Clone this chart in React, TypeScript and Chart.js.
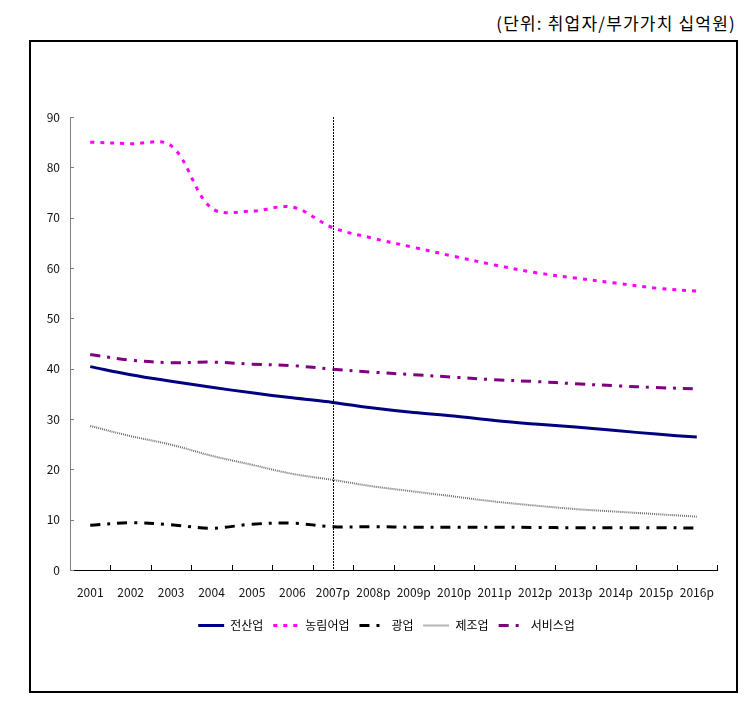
import { useEffect, useRef } from 'react';
import { Chart, registerables } from 'chart.js';

Chart.register(...registerables);

const categories = ['2001', '2002', '2003', '2004', '2005', '2006', '2007p', '2008p', '2009p', '2010p', '2011p', '2012p', '2013p', '2014p', '2015p', '2016p'];
const allIndustry = [40.4, 38.8, 37.5, 36.3, 35.2, 34.2, 33.3, 32.2, 31.3, 30.6, 29.7, 29.0, 28.4, 27.7, 27.0, 26.4];
const agriculture = [85.0, 84.7, 84.3, 71.9, 71.3, 72.1, 68.0, 65.9, 64.1, 62.3, 60.6, 59.1, 58.0, 57.0, 56.0, 55.4];
const mining = [8.9, 9.4, 9.0, 8.3, 9.1, 9.3, 8.6, 8.6, 8.5, 8.5, 8.5, 8.45, 8.4, 8.4, 8.4, 8.35];
const manufacturing = [28.6, 26.6, 24.9, 22.7, 20.9, 19.1, 17.9, 16.6, 15.6, 14.6, 13.6, 12.8, 12.1, 11.6, 11.1, 10.6];
const services = [42.8, 41.7, 41.2, 41.3, 40.9, 40.6, 39.9, 39.3, 38.8, 38.3, 37.8, 37.45, 37.0, 36.6, 36.25, 36.0];
const seriesNames = ['전산업', '농림어업', '광업', '제조업', '서비스업'];
const yMin = 0;
const yMax = 90;
const yStep = 10;
const forecastStart = '2007p';
const unitLabel = '(단위: 취업자/부가가치 십억원)';

const FONT = '"Noto Sans CJK KR", "Noto Sans", sans-serif';

const extrasPlugin = {
  id: 'extras',
  afterLayout(chart: any) {
    const lg = chart.legend;
    if (lg) {
      lg.left += 13;
      lg.right += 13;
    }
  },
  afterDatasetsDraw(chart: any) {
    const { ctx, chartArea } = chart;
    const x = chart.scales.x;
    const y = chart.scales.y;
    ctx.save();
    const fx = x.getPixelForValue(categories.indexOf(forecastStart));
    ctx.strokeStyle = '#000';
    ctx.lineWidth = 1;
    ctx.setLineDash([2, 1]);
    ctx.beginPath();
    ctx.moveTo(Math.round(fx) + 0.5, chartArea.top);
    ctx.lineTo(Math.round(fx) + 0.5, chartArea.bottom);
    ctx.stroke();
    ctx.setLineDash([]);
    ctx.strokeStyle = '#000';
    for (let i = 1; i <= categories.length; i++) {
      const px = Math.round(x.getPixelForValue(i - 0.5)) + 0.5;
      ctx.beginPath();
      ctx.moveTo(px, chartArea.bottom);
      ctx.lineTo(px, chartArea.bottom - 5);
      ctx.stroke();
    }
    ctx.strokeStyle = '#808080';
    for (let v = yMin; v <= yMax; v += yStep) {
      const py = Math.round(y.getPixelForValue(v)) + 0.5;
      ctx.beginPath();
      ctx.moveTo(chartArea.left, py);
      ctx.lineTo(chartArea.left + 4, py);
      ctx.stroke();
    }
    ctx.restore();
  },
  afterDraw(chart: any) {
    const legend = chart.legend;
    if (!legend || !legend.legendHitBoxes) return;
    const { ctx } = chart;
    const boxW = legend.options.labels.boxWidth;
    ctx.save();
    legend.legendHitBoxes.forEach((hb: any, i: number) => {
      const ds = chart.data.datasets[i];
      const cy = Math.round(hb.top + hb.height / 2) + 0.5;
      ctx.strokeStyle = ds.borderColor;
      ctx.lineWidth = ds.borderWidth;
      ctx.setLineDash(ds.borderDash || []);
      ctx.beginPath();
      ctx.moveTo(hb.left, cy);
      ctx.lineTo(hb.left + boxW, cy);
      ctx.stroke();
    });
    ctx.restore();
  },
};

export default function App() {
  const ref = useRef<HTMLCanvasElement>(null);
  useEffect(() => {
    if (!ref.current) return;
    const chart = new Chart(ref.current, {
      type: 'line',
      data: {
        labels: categories,
        datasets: [
          { label: seriesNames[0], data: allIndustry, borderColor: '#000080', borderWidth: 3, borderDash: [] },
          { label: seriesNames[1], data: agriculture, borderColor: '#FF00FF', borderWidth: 3, borderDash: [4, 6] },
          { label: seriesNames[2], data: mining, borderColor: '#000000', borderWidth: 3, borderDash: [10, 7, 3, 7] },
          { label: seriesNames[3], data: manufacturing, borderColor: '#6e6e6e', borderWidth: 2, borderDash: [1, 1] },
          { label: seriesNames[4], data: services, borderColor: '#800080', borderWidth: 3, borderDash: [10, 7, 3, 7] },
        ].map((d) => ({ ...d, pointRadius: 0, pointHoverRadius: 0, tension: 0.35, fill: false, backgroundColor: d.borderColor })),
      },
      options: {
        animation: false,
        responsive: false,
        events: [],
        layout: { padding: { left: 30, right: 33, top: 117, bottom: 62 } },
        plugins: {
          title: { display: false },
          tooltip: { enabled: false },
          legend: {
            display: true,
            position: 'bottom',
            labels: {
              boxWidth: 26,
              boxHeight: 12,
              padding: 10,
              color: '#000',
              font: { family: FONT, size: 12 },
              generateLabels: (c: any) =>
                c.data.datasets.map((ds: any, i: number) => ({
                  text: ds.label,
                  fillStyle: 'rgba(0,0,0,0)',
                  strokeStyle: 'rgba(0,0,0,0)',
                  lineWidth: 0,
                  hidden: false,
                  datasetIndex: i,
                  fontColor: '#000',
                })),
            },
          },
        },
        scales: {
          x: {
            type: 'category',
            offset: true,
            grid: { display: true, offset: true, drawOnChartArea: false, drawTicks: false },
            border: { display: true, color: '#000', width: 1 },
            ticks: { autoSkip: false, maxRotation: 0, minRotation: 0, padding: 15, color: '#111', font: { family: FONT, size: 12 } },
            afterFit: (s: any) => { s.height = 39; },
          },
          y: {
            min: yMin,
            max: yMax,
            grid: { display: true, drawOnChartArea: false, drawTicks: false },
            border: { display: true, color: '#808080', width: 1 },
            ticks: { stepSize: yStep, padding: 10, color: '#111', font: { family: FONT, size: 12 } },
            afterFit: (s: any) => { s.width = 40; },
          },
        },
      },
      plugins: [extrasPlugin],
    } as any);
    return () => chart.destroy();
  }, []);

  return (
    <div style={{ position: 'absolute', left: 0, top: 0, width: 750, height: 703, background: '#fff' }}>
      <div
        style={{
          position: 'absolute',
          right: 14,
          top: 11,
          fontFamily: FONT,
          fontSize: 17,
          letterSpacing: '1.2px',
          lineHeight: '24px',
          color: '#000',
          whiteSpace: 'nowrap',
        }}
      >
        {unitLabel}
      </div>
      <div
        style={{
          position: 'absolute',
          left: 29,
          top: 40,
          width: 709,
          height: 653,
          boxSizing: 'border-box',
          border: '2px solid #000',
        }}
      />
      <canvas ref={ref} width={750} height={703} style={{ position: 'absolute', left: 0, top: 0 }} />
    </div>
  );
}
